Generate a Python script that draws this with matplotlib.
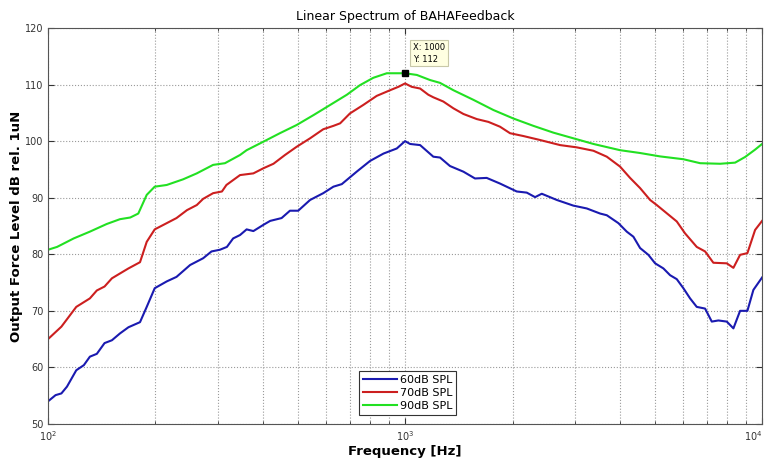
import numpy as np
import matplotlib.pyplot as plt
from matplotlib.ticker import LogLocator, NullFormatter, MultipleLocator

# 60 dB SPL
f60 = [100, 105, 109, 113, 120, 126, 131, 137, 144, 151, 159, 168, 181, 189, 199,
       215, 229, 250, 272, 287, 303, 317, 330, 345, 360, 376, 401, 419, 451, 476,
       502, 542, 590, 630, 665, 732, 798, 870, 948, 1000, 1033, 1102, 1200, 1253,
       1336, 1457, 1570, 1693, 1845, 2055, 2192, 2313, 2415, 2661, 2961, 3228,
       3518, 3673, 3959, 4178, 4361, 4553, 4803, 5016, 5291, 5525, 5768, 6019,
       6285, 6561, 6924, 7229, 7544, 7963, 8311, 8677, 9096, 9454, 10000]
spl60 = [54.0, 55.1, 55.4, 56.6, 59.5, 60.4, 61.9, 62.4, 64.3, 64.8, 66.0, 67.1, 68.0,
         70.7, 74.0, 75.2, 76.0, 78.1, 79.3, 80.5, 80.8, 81.3, 82.8, 83.4, 84.4, 84.1,
         85.2, 85.9, 86.4, 87.7, 87.7, 89.6, 90.8, 91.95, 92.4, 94.6, 96.5, 97.8,
         98.7, 100.0, 99.5, 99.3, 97.25, 97.1, 95.6, 94.6, 93.4, 93.5, 92.5, 91.1,
         90.9, 90.1, 90.7, 89.6, 88.6, 88.1, 87.2, 86.9, 85.5, 84.0, 83.1, 81.1, 79.9,
         78.4, 77.5, 76.3, 75.6, 74.0, 72.2, 70.7, 70.4, 68.1, 68.3, 68.1, 66.9, 70.0,
         70.0, 73.7, 75.9]

# 70 dB SPL
f70 = [100, 109, 120, 131, 137, 144, 151, 159, 168, 181, 189, 199, 215, 229, 245,
       261, 272, 290, 307, 316, 345, 376, 401, 428, 461, 497, 542, 590, 630, 658,
       701, 764, 833, 908, 958, 1000, 1044, 1102, 1162, 1200, 1280, 1366, 1457,
       1588, 1712, 1845, 1968, 2145, 2388, 2718, 3027, 3370, 3673, 4001, 4268,
       4553, 4857, 5070, 5768, 6084, 6561, 6924, 7303, 7963, 8311, 8677, 9096,
       9559, 10000]
spl70 = [65.0, 67.2, 70.7, 72.2, 73.6, 74.3, 75.75, 76.6, 77.5, 78.6, 82.2, 84.4,
         85.5, 86.4, 87.8, 88.7, 89.8, 90.8, 91.1, 92.25, 94.0, 94.3, 95.2, 96.0,
         97.55, 99.0, 100.5, 102.1, 102.7, 103.15, 104.9, 106.4, 108.0, 109.0,
         109.6, 110.2, 109.6, 109.3, 108.2, 107.75, 107.0, 105.8, 104.8, 103.9,
         103.4, 102.55, 101.4, 100.9, 100.2, 99.3, 98.9, 98.3, 97.25, 95.5, 93.5,
         91.7, 89.6, 88.7, 85.8, 83.7, 81.3, 80.5, 78.5, 78.4, 77.6, 79.9, 80.2,
         84.3, 85.9]

# 90 dB SPL
f90 = [100, 106, 118, 131, 146, 159, 170, 179, 189, 199, 215, 239, 261, 290, 313,
       345, 360, 401, 446, 497, 554, 617, 687, 748, 815, 889, 1000, 1079, 1175,
       1253, 1366, 1554, 1768, 2011, 2288, 2603, 2961, 3370, 4001, 4553, 5180,
       6019, 6706, 7628, 8403, 8964, 9559, 10000]
spl90 = [80.8, 81.3, 82.8, 84.0, 85.35, 86.2, 86.5, 87.2, 90.5, 91.95, 92.25, 93.25,
         94.3, 95.8, 96.1, 97.55, 98.4, 99.9, 101.4, 102.85, 104.6, 106.4, 108.2,
         109.9, 111.2, 112.0, 112.0, 111.7, 110.8, 110.3, 109.0, 107.3, 105.5,
         104.0, 102.7, 101.5, 100.5, 99.5, 98.4, 97.9, 97.3, 96.8, 96.1, 96.0,
         96.2, 97.2, 98.5, 99.5]

labels = ['60dB SPL', '70dB SPL', '90dB SPL']
colors = ['#1a1ab0', '#cc1f1f', '#22e022']
decades = [100, 1000, 10000]

fig = plt.figure(figsize=(7.67, 4.62), dpi=100)
ax = fig.add_axes([0.0626, 0.0823, 0.931, 0.8571])

for f, s, lab, c in zip([f60, f70, f90], [spl60, spl70, spl90], labels, colors):
    ax.plot(f, s, color=c, lw=1.5, label=lab)

ax.set_xscale('log')
ax.set_xlim(100, 10000)
ax.set_ylim(50, 120)
ax.set_xticks(decades, [r'$10^{2}$', r'$10^{3}$', r'$10^{4}$'])
ax.yaxis.set_major_locator(MultipleLocator(10))
ax.xaxis.set_minor_locator(LogLocator(base=10, subs=np.arange(2, 10)))
ax.xaxis.set_minor_formatter(NullFormatter())

ax.grid(True, which='major', ls=':', color='#9a9a9a', lw=0.8)
ax.grid(True, which='minor', axis='x', ls=':', color='#9a9a9a', lw=0.8)
ax.tick_params(which='both', direction='in', top=True, right=True,
               labelsize=7, colors='#333333')
ax.tick_params(which='major', length=4)
ax.tick_params(which='minor', length=2)
for sp in ax.spines.values():
    sp.set_color('#555555')

# keep the last decade label inside the figure
ax.get_xticklabels()[-1].set_horizontalalignment('right')

ax.set_title('Linear Spectrum of BAHAFeedback', fontsize=9, pad=6)
ax.set_xlabel('Frequency [Hz]', fontsize=9.5, fontweight='bold', labelpad=2)
ax.set_ylabel('Output Force Level dB rel. 1uN', fontsize=9.5, fontweight='bold',
              labelpad=1)

# data cursor at the peak of the 90 dB curve
ax.plot([1000], [112], 's', color='black', ms=5)
ax.annotate('X: 1000\nY: 112', xy=(1000, 112), xytext=(6, 7),
            textcoords='offset points', fontsize=6, va='bottom', ha='left',
            linespacing=1.4,
            bbox=dict(boxstyle='square,pad=0.35', fc='#ffffe1', ec='#c8c8a8', lw=0.8))

leg = ax.legend(loc='lower center', bbox_to_anchor=(0.504, 0.008), fontsize=8,
                fancybox=False, edgecolor='#333333', framealpha=1,
                handlelength=3.0, handletextpad=0.3, borderpad=0.35,
                labelspacing=0.3)
leg.get_frame().set_linewidth(0.8)

fig.savefig('out.png', dpi=100)
